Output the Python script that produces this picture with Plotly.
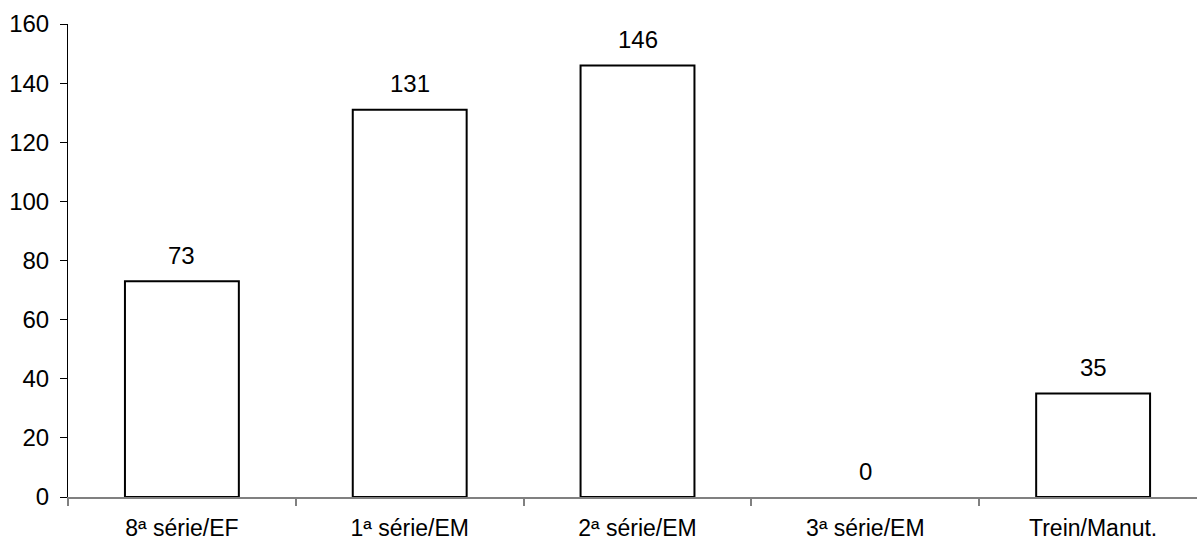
import plotly.graph_objects as go

categories = ["8ª série/EF", "1ª série/EM", "2ª série/EM", "3ª série/EM", "Trein/Manut."]
values = [73, 131, 146, 0, 35]
y_ticks = [0, 20, 40, 60, 80, 100, 120, 140, 160]

FONT = "Liberation Sans, Arial, sans-serif"
SIZE = 24

fig = go.Figure()
fig.add_trace(go.Bar(
    x=categories,
    y=values,
    width=0.5,
    marker=dict(
        color="white",
        # an empty category gets no outline
        line=dict(color="black", width=[2 if v > 0 else 0 for v in values]),
    ),
    hoverinfo="x+y",
))

# value labels above each bar
for c, v in zip(categories, values):
    fig.add_annotation(
        x=c, y=v, text=str(v), showarrow=False,
        yanchor="middle", yshift=26,
        font=dict(family=FONT, size=SIZE, color="black"),
    )

fig.update_layout(
    width=1197, height=544,
    margin=dict(l=68, r=0, t=24, b=47),
    paper_bgcolor="white", plot_bgcolor="white",
    showlegend=False,
    font=dict(family=FONT, size=SIZE, color="black"),
    bargap=0.5,
)
fig.update_xaxes(
    type="category",
    range=[-0.5, 4.456],
    automargin=False,
    showline=True, linecolor="#808080", linewidth=1.5,
    ticks="outside", tickson="boundaries", ticklen=7, tickcolor="#808080", tickwidth=1.5,
    showgrid=False, zeroline=False,
    ticklabelstandoff=10,
    tickfont=dict(family=FONT, size=23, color="black"),
)
fig.update_yaxes(
    range=[0, 160],
    tickvals=y_ticks,
    automargin=False,
    showline=True, linecolor="black", linewidth=1,
    ticks="outside", ticklen=7, tickcolor="black", tickwidth=1,
    showgrid=False, zeroline=False,
    ticklabelstandoff=6,
    tickfont=dict(family=FONT, size=SIZE, color="black"),
)

fig.write_html("out.html")
